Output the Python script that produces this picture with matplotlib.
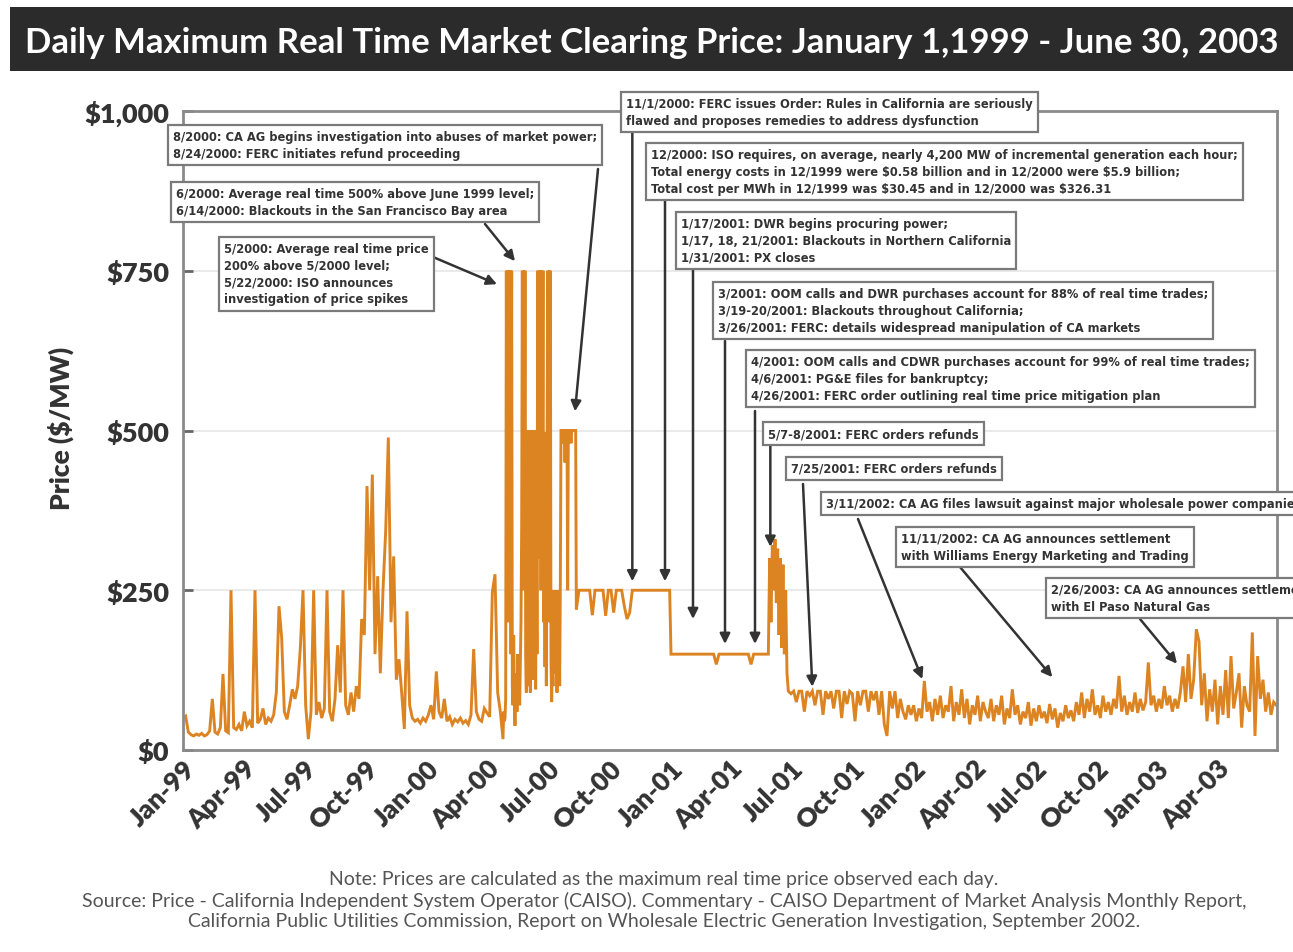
import os
import numpy as np
import matplotlib
matplotlib.use("Agg")
import matplotlib.pyplot as plt
from matplotlib.patches import Rectangle
from matplotlib import font_manager
from matplotlib.font_manager import FontProperties

# ---------------- data ----------------
# Jan 1999 - Apr 2000, one reading every 4 days
a_start, a_step = "1999-01-01", 4
a_vals = [50, 53, 28, 24, 22, 25, 23, 26, 22, 24, 30, 80, 28, 25, 35, 119, 30, 27, 250, 35,
          32, 40, 30, 60, 38, 45, 35, 250, 42, 48, 65, 40, 50, 45, 55, 90, 225, 176, 60, 48,
          70, 95, 80, 100, 160, 250, 70, 17, 60, 250, 55, 75, 50, 65, 250, 60, 45, 80, 164, 90,
          250, 70, 55, 90, 60, 100, 80, 205, 180, 413, 250, 431, 150, 272, 120, 250, 342, 489, 200, 303,
          110, 142, 90, 33, 217, 70, 50, 45, 48, 42, 50, 45, 55, 70, 48, 123, 60, 50, 80, 45,
          52, 40, 48, 44, 50, 42, 46, 40, 55, 158, 60, 48, 45, 65, 58, 52, 247, 275, 90, 60]
# Apr 2000 - Aug 2000, one reading every day
b_start, b_step = "2000-04-25", 1
b_vals = [17, 60, 45, 50, 80,
          750, 300, 750, 200, 750, 400, 750, 150, 750,
          100, 70, 180, 90, 38, 120, 95, 60, 150, 80, 110, 70, 130,
          200, 350, 750, 250, 750, 300, 750, 150, 90,
          480, 100, 500, 150, 460, 90, 500, 200, 470, 110, 500, 130, 420, 95, 500, 150,
          750, 300, 750, 500, 750, 250, 750, 400, 750,
          200, 497, 130, 480, 100, 450,
          750, 200, 750, 300, 750, 140,
          75, 140, 100, 250, 180, 250, 120, 200, 90, 250, 150, 230, 100, 260,
          500, 500, 480, 500, 500, 500, 450, 500, 500, 500, 250, 500, 500, 500, 500, 480, 500, 500,
          500, 500, 500, 500, 500]
# Aug 2000 - Dec 2000 ($250 level)
c_start, c_step = "2000-08-13", 4
c_vals = [220, 250, 250, 250, 250, 250, 211, 250, 250, 250, 250, 210, 250, 250, 215, 250, 250, 250, 225, 205,
          215, 250, 250, 250, 250, 250, 250, 250, 250, 250, 250, 250, 250, 250, 250, 250]
# Jan 2001 - May 2001 ($150 level)
d_start, d_step = "2001-01-02", 4
d_vals = [150, 150, 150, 150, 150, 150, 150, 150, 150, 150, 150, 150, 150, 150, 150, 150, 150, 134, 150, 150,
          150, 150, 150, 150, 150, 150, 150, 150, 150, 150, 134, 150, 150, 150, 150, 150, 150]
# late May - June 2001 spike
e_start, e_step = "2001-05-28", 2
e_vals = [150, 300, 200, 320, 250, 330, 230, 315, 180, 300, 160, 290, 150, 250, 120]
# July 2001 - Dec 2001 (~$92 level)
f_start, f_step = "2001-06-27", 4
f_vals = [92, 88, 92, 75, 92, 92, 60, 92, 85, 92, 70, 92, 92, 55, 92, 80, 92, 65, 92, 92,
          50, 92, 72, 92, 88, 45, 92, 70, 92, 92, 60, 92, 78, 92, 55, 92, 40, 22, 92, 65,
          92, 50, 80, 60, 48, 70]
# Jan 2002 - June 2003
g_start, g_step = "2001-12-28", 4
g_vals = [55, 70, 45, 65, 50, 108, 60, 75, 45, 80, 55, 85, 50, 70, 60, 100, 45, 75, 55, 95,
          50, 80, 40, 70, 55, 85, 45, 75, 60, 50, 80, 45, 70, 55, 85, 40, 65, 50, 95, 55,
          70, 40, 60, 50, 75, 38, 65, 45, 70, 50, 60, 42, 72, 48, 65, 35, 58, 45, 70, 50,
          62, 45, 75, 55, 90, 50, 80, 60, 95, 55, 70, 50, 85, 60, 75, 55, 80, 65, 116, 60,
          85, 55, 75, 60, 90, 58, 80, 62, 75, 137, 70, 85, 60, 80, 65, 100, 70, 85, 60, 80,
          65, 90, 131, 75, 150, 80, 110, 189, 170, 70, 120, 45, 95, 60, 110, 40, 100, 55, 125, 50,
          147, 65, 90, 120, 35, 100, 70, 60, 184, 22, 147, 80, 110, 60, 90, 55, 75, 70]

y_ticks = [0, 250, 500, 750, 1000]
y_ticklabels = ["$0", "$250", "$500", "$750", "$1,000"]
x_tick_dates = ["1999-01-01", "1999-04-01", "1999-07-01", "1999-10-01", "2000-01-01", "2000-04-01",
                "2000-07-01", "2000-10-01", "2001-01-01", "2001-04-01", "2001-07-01", "2001-10-01",
                "2002-01-01", "2002-04-01", "2002-07-01", "2002-10-01", "2003-01-01", "2003-04-01"]
x_ticklabels = ["Jan-99", "Apr-99", "Jul-99", "Oct-99", "Jan-00", "Apr-00", "Jul-00", "Oct-00",
                "Jan-01", "Apr-01", "Jul-01", "Oct-01", "Jan-02", "Apr-02", "Jul-02", "Oct-02",
                "Jan-03", "Apr-03"]

title = "Daily Maximum Real Time Market Clearing Price: January 1,1999 - June 30, 2003"
footer = ["Note: Prices are calculated as the maximum real time price observed each day.",
          "Source: Price - California Independent System Operator (CAISO). Commentary - CAISO Department of Market Analysis Monthly Report,",
          "California Public Utilities Commission, Report on Wholesale Electric Generation Investigation, September 2002."]

# ---------------- fonts ----------------
names = {f.name for f in font_manager.fontManager.ttflist}
main_font = "Lato" if "Lato" in names else "DejaVu Sans"


def pick_condensed_bold():
    best, best_score = None, -1
    for f in font_manager.fontManager.ttflist:
        base = os.path.basename(f.fname).lower()
        nm = f.name.lower()
        cond = ("narrow" in base or "condensed" in base or "narrow" in nm or "condensed" in nm
                or str(f.stretch) in ("condensed", "semi-condensed", "extra-condensed"))
        if not cond:
            continue
        w = f.weight if isinstance(f.weight, int) else {"bold": 700, "semibold": 600, "normal": 400}.get(str(f.weight), 400)
        if "italic" in base or "oblique" in base or f.style != "normal":
            continue
        if "extra" in base or "ultra" in base:
            continue
        score = 0
        if 650 <= w <= 750 or "bold" in base:
            score += 10
        if "semibold" in base or "extrabold" in base:
            score -= 3
        if "semicondensed" in base or "semi" in str(f.stretch):
            score -= 1
        if score > best_score:
            best, best_score = f, score
    if best is not None and best_score >= 9:
        return FontProperties(fname=best.fname)
    return FontProperties(family="Liberation Sans" if "Liberation Sans" in names else "DejaVu Sans",
                          weight="bold")


box_fp = pick_condensed_bold()

W, H = 1293, 953
fig = plt.figure(figsize=(W / 100, H / 100), dpi=100)
fig.patch.set_facecolor("white")
renderer = fig.canvas.get_renderer()


def fit_size(text, fp, target_px, ref=10.0):
    t = fig.text(0, 0, text, fontproperties=fp, fontsize=ref, parse_math=False)
    w = t.get_window_extent(renderer).width
    t.remove()
    return ref * target_px / w


box_size = fit_size("12/2000: ISO requires, on average, nearly 4,200 MW of incremental generation each hour;",
                    box_fp, 585)
title_fp = FontProperties(family=main_font, weight="bold")
title_size = min(fit_size(title, title_fp, 1256), 26)
foot_fp = FontProperties(family=main_font, weight="normal")
foot_size = fit_size(footer[1], foot_fp, 1166)

ax = fig.add_axes([183 / W, 1 - 751 / H, (1277 - 183) / W, (751 - 112) / H])

# build series
dates, prices = [], []
for start, step, vals in [(a_start, a_step, a_vals), (b_start, b_step, b_vals), (c_start, c_step, c_vals),
                          (d_start, d_step, d_vals), (e_start, e_step, e_vals), (f_start, f_step, f_vals),
                          (g_start, g_step, g_vals)]:
    dts = np.datetime64(start) + np.arange(len(vals)) * np.timedelta64(step, "D")
    dates.append(dts)
    prices.append(np.array(vals, dtype=float))
dates = np.concatenate(dates)
prices = np.concatenate(prices)

for yv in [250, 500, 750]:
    ax.axhline(yv, color="#e6e6e6", lw=1.2, zorder=0)
ax.plot(dates, prices, color="#DD8422", lw=2.1, solid_joinstyle="miter", zorder=2)

ax.set_xlim(np.datetime64("1999-01-01"), np.datetime64("2003-06-30"))
ax.set_ylim(0, 1000)
ax.set_yticks(y_ticks)
ax.set_yticklabels(y_ticklabels, fontfamily=main_font, fontweight="heavy", fontsize=19.5, color="#333333")
ax.set_xticks([np.datetime64(d) for d in x_tick_dates])
ax.set_xticklabels(x_ticklabels, rotation=45, ha="right", rotation_mode="anchor",
                   fontfamily=main_font, fontweight="heavy", fontsize=19, color="#333333")
ax.tick_params(axis="y", direction="in", length=7, width=2, color="#666666", pad=10)
ax.tick_params(axis="x", length=0, pad=4)
for s in ax.spines.values():
    s.set_color("#8a8a8a")
    s.set_linewidth(2)

# title bar
fig.patches.append(Rectangle((10 / W, 1 - 72 / H), 1 - 10 / W, 64 / H, transform=fig.transFigure,
                             facecolor="#2b2b2b", edgecolor="none", zorder=0))
fig.text(25 / W, 1 - 43 / H, title, color="white", fontproperties=title_fp,
         fontsize=title_size, ha="left", va="center")

fig.text(61 / W, 1 - 428 / H, "Price ($/MW)", rotation=90, fontfamily=main_font, fontweight="heavy",
         fontsize=19, color="#333333", ha="center", va="center")

for i, line in enumerate(footer):
    fig.text(664 / W, 1 - (880 + 21 * i) / H, line, fontproperties=foot_fp, fontsize=foot_size,
             color="#555555", ha="center", va="center")

# ---------------- annotations ----------------
def fp(x, y):
    return (x, H - y)

boxes = [
    ("8/2000: CA AG begins investigation into abuses of market power;\n8/24/2000: FERC initiates refund proceeding", 167, 125),
    ("6/2000: Average real time 500% above June 1999 level;\n6/14/2000: Blackouts in the San Francisco Bay area", 170, 182),
    ("5/2000: Average real time price\n200% above 5/2000 level;\n5/22/2000: ISO announces\ninvestigation of price spikes", 218, 237),
    ("11/1/2000: FERC issues Order: Rules in California are seriously\nflawed and proposes remedies to address dysfunction", 620, 92),
    ("12/2000: ISO requires, on average, nearly 4,200 MW of incremental generation each hour;\nTotal energy costs in 12/1999 were $0.58 billion and in 12/2000 were $5.9 billion;\nTotal cost per MWh in 12/1999 was $30.45 and in 12/2000 was $326.31", 645, 143),
    ("1/17/2001: DWR begins procuring power;\n1/17, 18, 21/2001: Blackouts in Northern California\n1/31/2001: PX closes", 675, 212),
    ("3/2001: OOM calls and DWR purchases account for 88% of real time trades;\n3/19-20/2001: Blackouts throughout California;\n3/26/2001: FERC: details widespread manipulation of CA markets", 712, 282),
    ("4/2001: OOM calls and CDWR purchases account for 99% of real time trades;\n4/6/2001: PG&E files for bankruptcy;\n4/26/2001: FERC order outlining real time price mitigation plan", 745, 350),
    ("5/7-8/2001: FERC orders refunds", 762, 422),
    ("7/25/2001: FERC orders refunds", 785, 457),
    ("3/11/2002: CA AG files lawsuit against major wholesale power companies", 820, 492),
    ("11/11/2002: CA AG announces settlement\nwith Williams Energy Marketing and Trading", 895, 527),
    ("2/26/2003: CA AG announces settlement\nwith El Paso Natural Gas", 1045, 578),
]
for txt, bx, by in boxes:
    fig.text((bx + 6) / W, 1 - (by + 6) / H, txt, fontproperties=box_fp, fontsize=box_size,
             color="#333333", ha="left", va="top", linespacing=1.38, parse_math=False, zorder=5,
             bbox=dict(boxstyle="square,pad=0.4", facecolor="white", edgecolor="#7a7a7a", linewidth=1.6))

arrow_kw = dict(arrowstyle="-|>", color="#333333", lw=1.8, mutation_scale=15, shrinkA=0, shrinkB=0)
# slanted arrows: (tip date, tip value, start pixel)
slanted = [("2000-08-11", 530, (598, 170)), ("2000-05-13", 765, (485, 225)), ("2000-04-16", 729, (433, 258)),
           ("2001-08-02", 99, (803, 485)), ("2002-01-14", 111, (858, 520)), ("2002-07-28", 114, (960, 568)),
           ("2003-01-31", 135, (1140, 620))]
for d, v, (sx, sy) in slanted:
    ax.annotate("", xy=(np.datetime64(d), v), xycoords="data", xytext=fp(sx, sy),
                textcoords="figure pixels", arrowprops=arrow_kw, annotation_clip=False, zorder=4)
# vertical connectors: (tip date, tip value, start pixel row)
vertical = [("2000-11-05", 264, 133), ("2000-12-24", 264, 200), ("2001-02-04", 205, 270),
            ("2001-03-24", 166, 342), ("2001-05-08", 166, 412), ("2001-05-31", 318, 447)]
for d, v, sy in vertical:
    ax.annotate("", xy=(np.datetime64(d), v), xycoords="data", xytext=(np.datetime64(d), H - sy),
                textcoords=("data", "figure pixels"), arrowprops=arrow_kw, annotation_clip=False, zorder=4)

fig.savefig("out.png", dpi=100)
